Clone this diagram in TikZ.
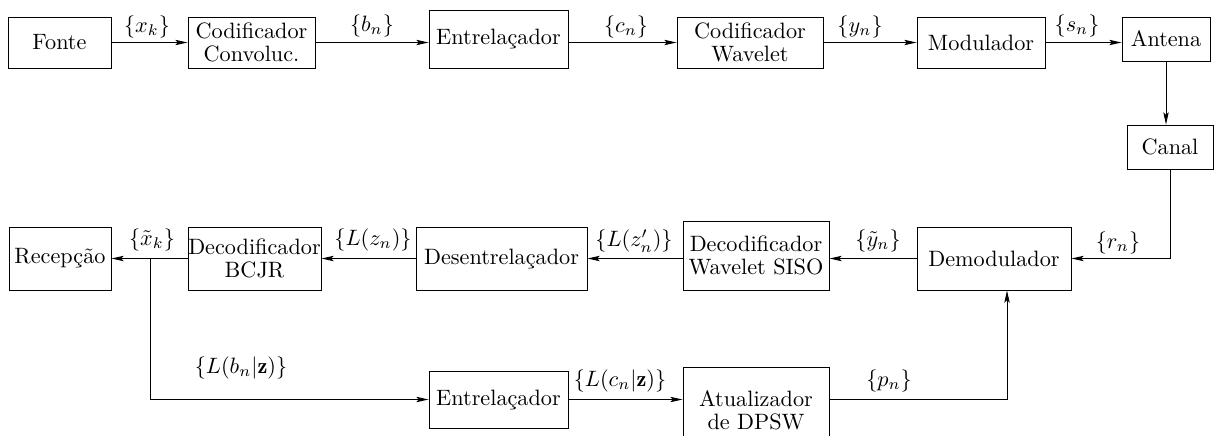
\documentclass[tikz,border=0pt]{standalone}
\usepackage{fontspec}
\usetikzlibrary{arrows.meta}
\newlength\U
\setlength\U{0.45pt}
\begin{document}
\begin{tikzpicture}[x=\U, y=-\U,
  blk/.style={draw, inner sep=0pt, align=center, font=\fontsize{10}{10.5}\selectfont},
  sz/.style 2 args={minimum width=#1\U, minimum height=#2\U},
  arr/.style={-{Stealth[length=5.5pt,width=2.4pt,inset=1.1pt]}},
  lbl/.style={inner sep=0pt}]
\useasboundingbox (0,0) rectangle (1215,435);
% top row
\node[blk, sz={103}{51}] (fonte) at (59.5,42.5) {Fonte};
\node[blk, sz={127}{51}] (conv) at (251.5,42.5) {Codificador\\Convoluc.};
\node[blk, sz={139}{58}] (ent) at (498.5,39) {Entrelaçador};
\node[blk, sz={146}{51}] (wav) at (750,42.5) {Codificador\\Wavelet};
\node[blk, sz={128}{51}] (mod) at (981,42.5) {Modulador};
\node[blk, sz={88}{44}] (ant) at (1166,39) {Antena};
\node[blk, sz={86}{44}] (can) at (1170,147) {Canal};
% bottom row
\node[blk, sz={154}{63}] (dem) at (994,258.5) {Demodulador};
\node[blk, sz={146}{69}] (siso) at (756,255.5) {Decodificador\\Wavelet SISO};
\node[blk, sz={171}{63}] (des) at (501.5,258.5) {Desentrelaçador};
\node[blk, sz={133}{63}] (bcjr) at (254.5,258.5) {Decodificador\\BCJR};
\node[blk, sz={102}{63}] (rec) at (60,258.5) {\raisebox{2pt}{Recepção}};
\node[blk, sz={139}{57}] (ent2) at (498.5,399.5) {Entrelaçador};
\node[blk, sz={146}{87}] (atu) at (756,410.5) {Atualizador\\de DPSW};
% connectors
\draw[arr] (fonte.east) -- (conv.west);
\draw[arr] (conv.east) -- (conv.east -| ent.west);
\draw[arr] (ent.east |- wav) -- (wav.west);
\draw[arr] (wav.east) -- (mod.west);
\draw[arr] (mod.east) -- (mod.east -| ant.west);
\draw[arr] (ant.south) -- (ant.south |- can.north);
\draw[arr] (can.south) |- (dem.east);
\draw[arr] (dem.west) -- (dem.west -| siso.east);
\draw[arr] (siso.west |- des) -- (des.east);
\draw[arr] (des.west) -- (bcjr.east);
\draw[arr] (bcjr.west) -- (rec.east);
\coordinate (br) at (150,258.5);
\draw[arr] (br) |- (ent2.west);
\draw[arr] (ent2.east) -- (ent2.east -| atu.west);
\coordinate (pk) at (1007,399.5);
\draw[arr] (atu.east |- pk) -| (dem.south -| pk);
% labels
\node[lbl] (lxk) at (147,27) {$\{x_k\}$};
\node[lbl] (lbn) at (372,26) {$\{b_n\}$};
\node[lbl] (lcn) at (626,27) {$\{c_n\}$};
\node[lbl] (lyn) at (860,27) {$\{y_n\}$};
\node[lbl] (lsn) at (1077,26) {$\{s_n\}$};
\node[lbl] (lrn) at (1118,243) {$\{r_n\}$};
\node[lbl] (lyt) at (878,241) {$\{\tilde{y}_n\}$};
\node[lbl] (lzp) at (634,241) {$\{L(z'_n)\}$};
\node[lbl] (lzn) at (373,240) {$\{L(z_n)\}$};
\node[lbl] (lxt) at (152,240) {$\{\tilde{x}_k\}$};
\node[lbl] (lbz) at (241,368) {$\{L(b_n|\mathbf{z})\}$};
\node[lbl] (lcz) at (620,381) {$\{L(c_n|\mathbf{z})\}$};
\node[lbl] (lpn) at (889,381) {$\{p_n\}$};
\end{tikzpicture}
\end{document}
